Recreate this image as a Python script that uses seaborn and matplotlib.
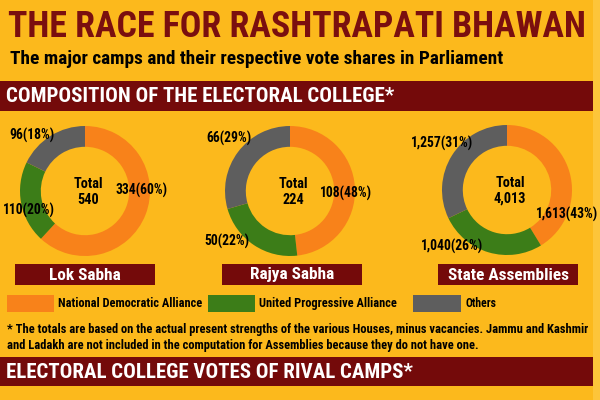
import matplotlib
matplotlib.use('Agg')
import matplotlib.pyplot as plt
from matplotlib import font_manager
from matplotlib.patches import Rectangle
import seaborn as sns

# data
houses = ['Lok Sabha', 'Rajya Sabha', 'State Assemblies']
camps = ['National Democratic Alliance', 'United Progressive Alliance', 'Others']
nda = [334, 108, 1613]
upa = [110, 50, 1040]
others = [96, 66, 1257]
nda_pct = [60, 48, 43]
upa_pct = [20, 22, 26]
oth_pct = [18, 29, 31]
totals = [540, 224, 4013]

title = 'THE RACE FOR RASHTRAPATI BHAWAN'
subtitle = 'The major camps and their respective vote shares in Parliament'
band1 = 'COMPOSITION OF THE ELECTORAL COLLEGE*'
band2 = 'ELECTORAL COLLEGE VOTES OF RIVAL CAMPS*'
note1 = ('* The totals are based on the actual present strengths of the various Houses, '
         'minus vacancies. Jammu and Kashmir')
note2 = ('and Ladakh are not included in the computation for Assemblies because they '
         'do not have one.')

BG = '#FCB91C'
MAROON = '#740A0A'
TITLE_C = '#7A0F0F'
palette = sns.color_palette(['#F8821A', '#3C7D18', '#5E5E5E'])

sns.set_theme(style='white')

# pick a condensed face if one is installed
fonts = font_manager.fontManager.ttflist
names = {f.name for f in fonts}
stretch = 'normal'
if 'Roboto Condensed' in names:
    family = 'Roboto Condensed'
elif 'Liberation Sans Narrow' in names:
    family = 'Liberation Sans Narrow'
else:
    family = 'DejaVu Sans'
    if any(f.name == 'DejaVu Sans' and f.stretch == 'condensed' for f in fonts):
        stretch = 'condensed'
plt.rcParams['font.family'] = [family, 'DejaVu Sans']
plt.rcParams['font.stretch'] = stretch

fig = plt.figure(figsize=(6, 4), dpi=100, facecolor=BG)

# donuts
centers = [(85, 191), (290, 191), (507, 190)]
R = 65
for i, h in enumerate(houses):
    cx, cy = centers[i]
    ax = fig.add_axes([(cx - R) / 600, 1 - (cy + R) / 400, 2 * R / 600, 2 * R / 400])
    ax.pie([nda[i], upa[i], others[i]], colors=palette, startangle=90,
           counterclock=False, radius=1,
           wedgeprops=dict(width=0.32, edgecolor='none'))
    ax.set_xlim(-1, 1)
    ax.set_ylim(-1, 1)
    ax.axis('off')

# overlay for all text and boxes
top = fig.add_axes([0, 0, 1, 1])
top.set_xlim(0, 600)
top.set_ylim(400, 0)
top.axis('off')
top.patch.set_alpha(0)


def fit(x, y, s, width, ha='left', weight='bold', **kw):
    t = top.text(x, y, s, ha=ha, va='center', fontsize=10, fontweight=weight, **kw)
    fig.canvas.draw()
    w = t.get_window_extent().width
    t.set_fontsize(10 * width / w)
    return t


# header
fit(8, 27, title, 575, color=TITLE_C)
fit(10, 59, subtitle, 493, color='black')

# bands
for y0, y1, txt, xend in [(81, 111, band1, 392), (357, 386, band2, 410)]:
    top.add_patch(Rectangle((0, y0), 593, y1 - y0, color=MAROON, lw=0))
    fit(6, (y0 + y1) / 2 + 1, txt, xend - 6, color='white')

label_pos = [
    [(142, 190), (29, 210), (32, 135)],
    [(346, 193), (227, 241), (229, 138)],
    [(567, 214), (452, 246), (442, 143)],
]
boxes = [(15, 155), (222, 362), (438, 578)]
lab_size = 9.8

# box label size fitted to the widest one
probe = top.text(0, 0, houses[2], fontsize=10, fontweight='bold')
fig.canvas.draw()
box_size = 10 * 121 / probe.get_window_extent().width
probe.remove()

for i, h in enumerate(houses):
    cx, cy = centers[i]
    vals = [nda[i], upa[i], others[i]]
    pcts = [nda_pct[i], upa_pct[i], oth_pct[i]]
    for (lx, ly), v, p in zip(label_pos[i], vals, pcts):
        top.text(lx, ly, f'{v:,}({p}%)', ha='center', va='center',
                 fontsize=lab_size, fontweight='bold', color='black')
    top.text(cx + 3, cy + 1, f'Total\n{totals[i]:,}', ha='center', va='center',
             fontsize=lab_size * 1.05, fontweight='bold', color='black',
             linespacing=1.15)

    x0, x1 = boxes[i]
    top.add_patch(Rectangle((x0, 264), x1 - x0, 21, color=MAROON, lw=0))
    top.text((x0 + x1) / 2, 275, h, ha='center', va='center',
             fontsize=box_size, fontweight='bold', color='white')

# legend
sw = [(7, 54), (208, 255), (413, 461)]
ends = [202, 397, 496]
for (x0, x1), c, name, xe in zip(sw, palette, camps, ends):
    top.add_patch(Rectangle((x0, 295), x1 - x0, 17, color=c, lw=0))
    fit(x1 + 4, 303.5, name, xe - x1 - 4, color='black', weight='semibold')

# footnote
t1 = fit(7, 329, note1, 582, color='black', weight='semibold')
top.text(7, 345, note2, ha='left', va='center', fontsize=t1.get_fontsize(),
         fontweight='semibold', color='black')

# light strip at right edge
top.add_patch(Rectangle((593, 0), 7, 400, color='#FDC53A', lw=0))

fig.savefig('out.png', dpi=100, facecolor=BG)
